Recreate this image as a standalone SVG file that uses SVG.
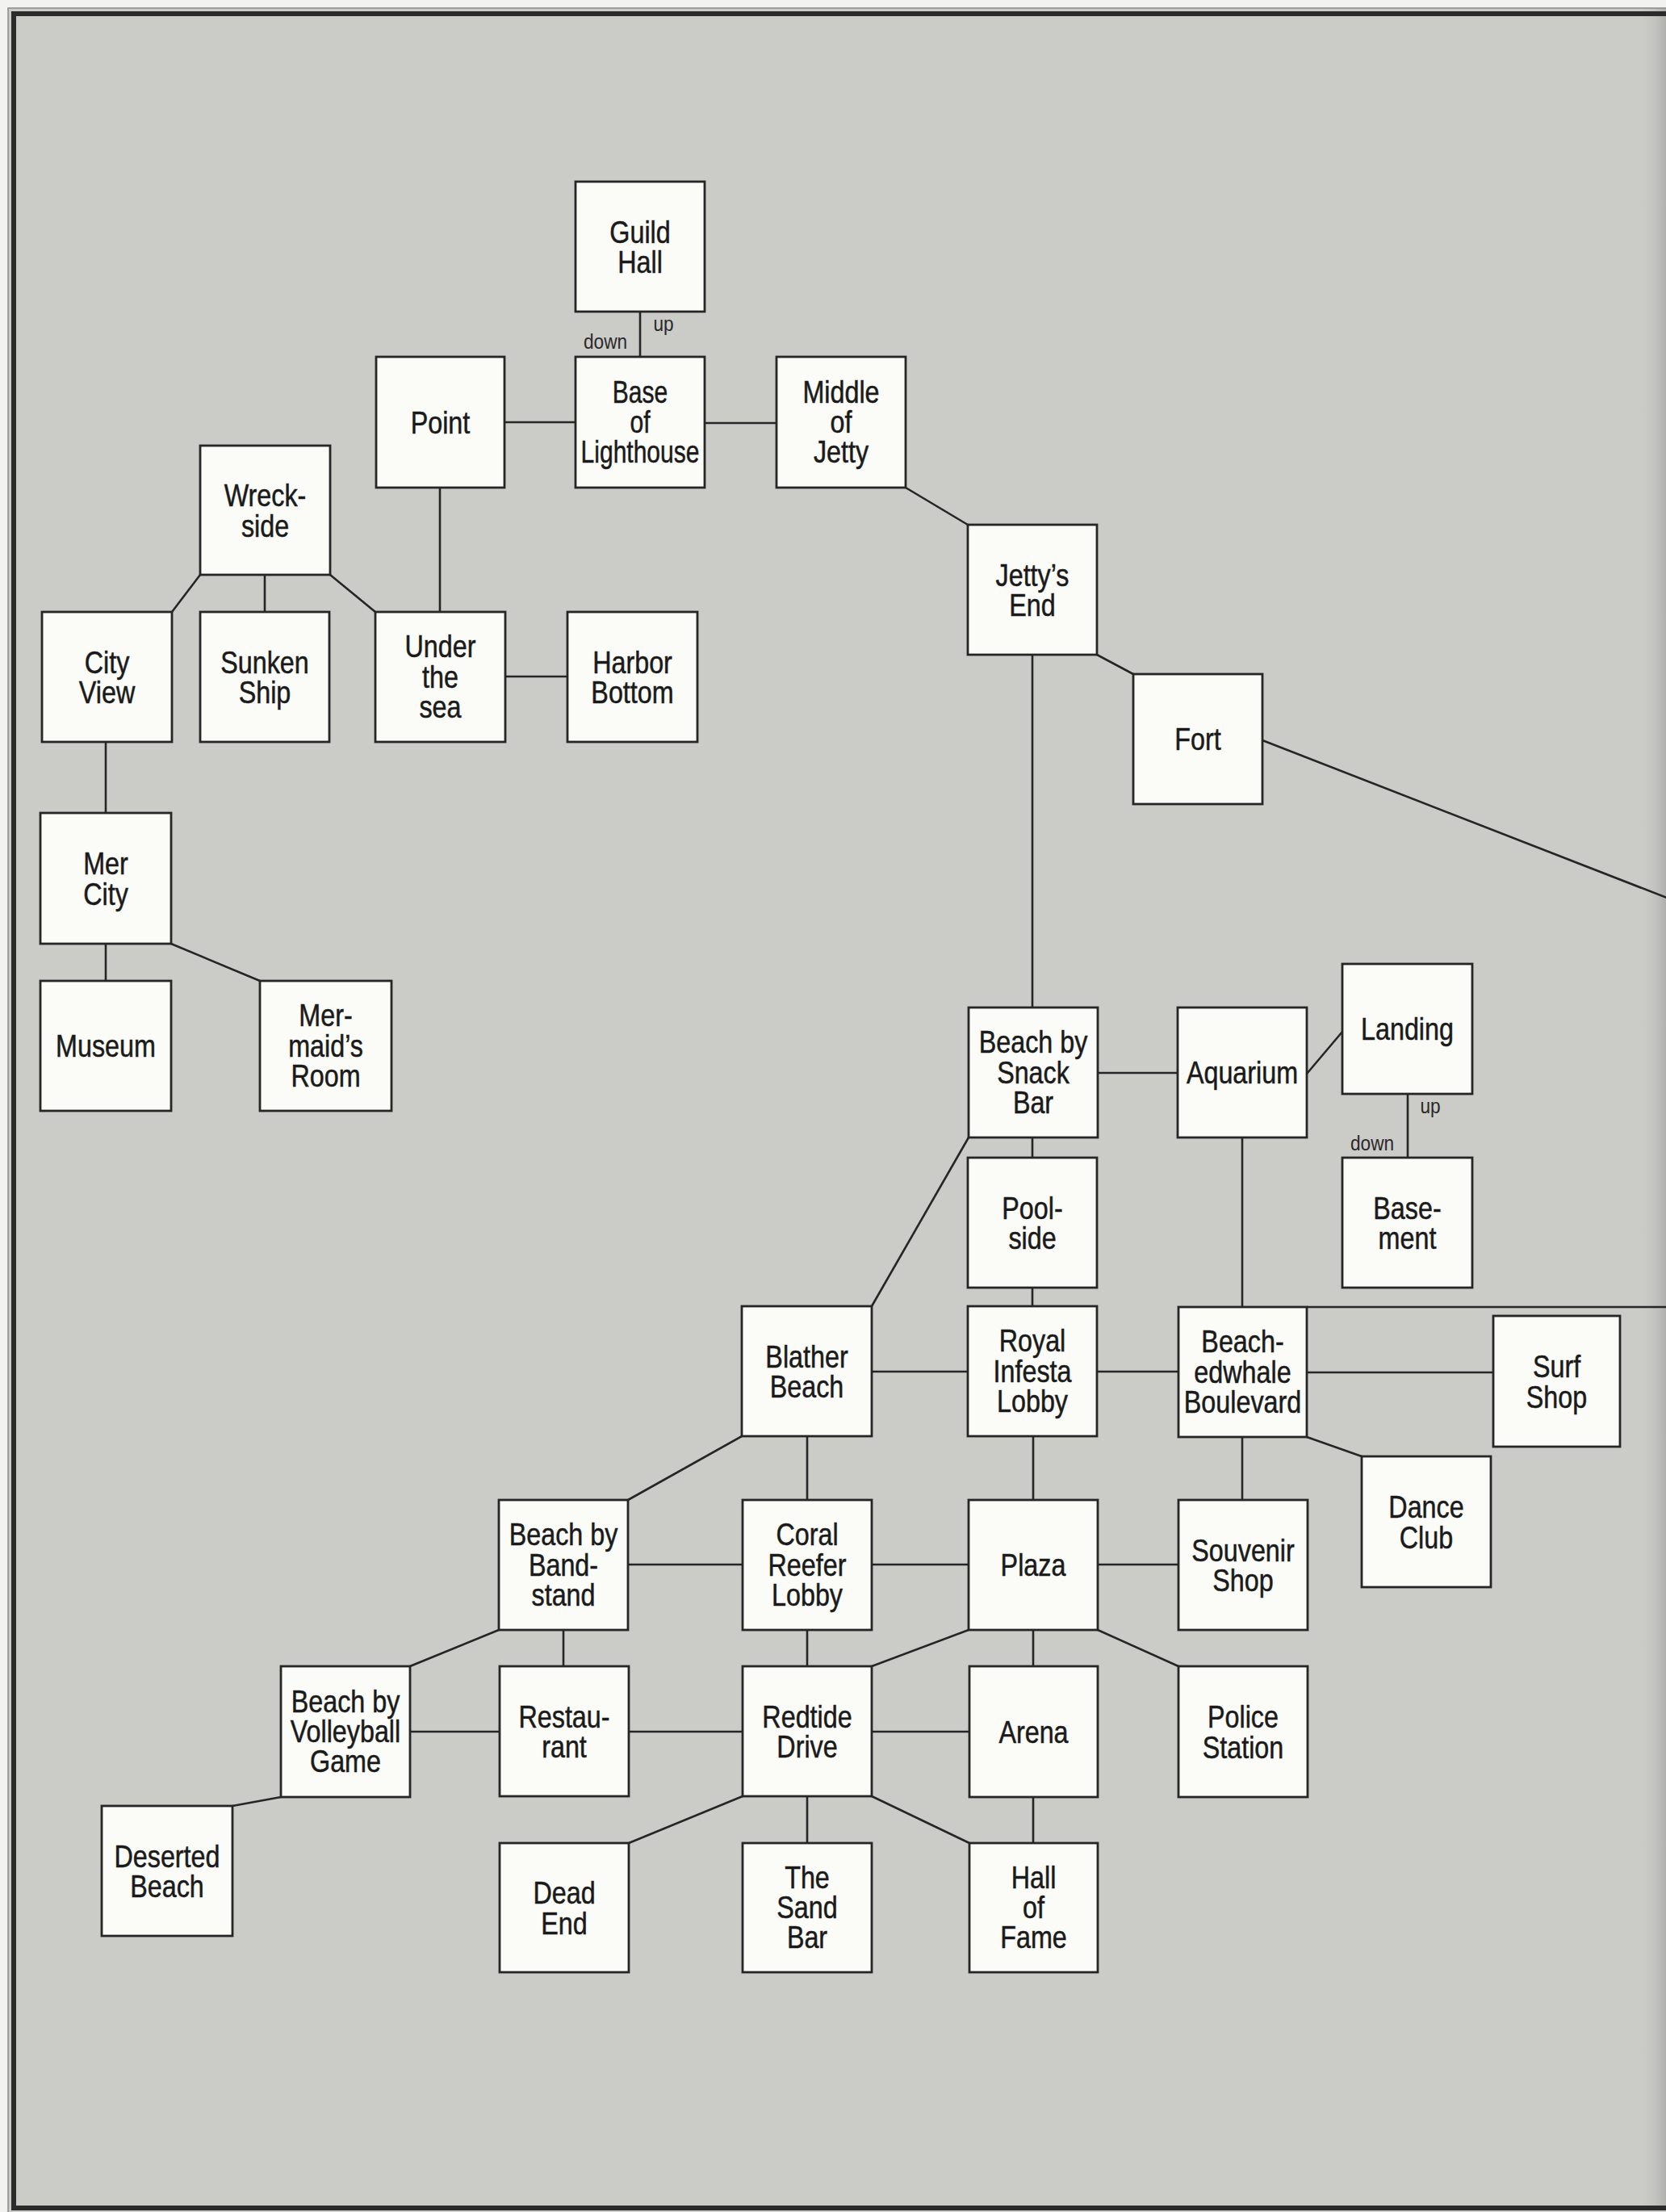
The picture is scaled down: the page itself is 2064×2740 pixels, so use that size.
<svg xmlns="http://www.w3.org/2000/svg" width="2064" height="2740" viewBox="0 0 2064 2740">
<defs>
<style>
.box{fill:#fbfbf8;stroke:#262626;stroke-width:2.8}
.lbl{font-family:"Liberation Sans",Arial,sans-serif;font-size:38px;fill:#1a1a1a;stroke:#1a1a1a;stroke-width:0.5;text-anchor:middle}
.dir{font-family:"Liberation Sans",Arial,sans-serif;font-size:26px;fill:#2a2a2a;text-anchor:middle}
#connectors line{stroke:#262626;stroke-width:2.6}
</style>
<linearGradient id="gutter" x1="0" y1="0" x2="1" y2="0">
<stop offset="0" stop-color="#cbcbc8" stop-opacity="0"/>
<stop offset="1" stop-color="#a9aaa7" stop-opacity="0.8"/>
</linearGradient>
</defs>
<rect x="0" y="0" width="2064" height="2740" fill="#f2f2f0"/>
<rect x="10" y="10" width="2054" height="2730" fill="#cbcbc8"/>
<rect x="2030" y="10" width="34" height="2725" fill="url(#gutter)"/>
<path d="M2064,17 H17 V2735 H2064" fill="none" stroke="#2b2b2b" stroke-width="6"/>
<path d="M2064,10 H10 V2740" fill="none" stroke="#8a8a88" stroke-width="1.5"/>

<g id="connectors">
<line x1="793" y1="386" x2="793" y2="442"/>
<line x1="625" y1="523" x2="713" y2="523"/>
<line x1="873" y1="524" x2="962" y2="524"/>
<line x1="1122" y1="604" x2="1199" y2="650"/>
<line x1="545" y1="604" x2="545" y2="758"/>
<line x1="248" y1="712" x2="213" y2="758"/>
<line x1="328" y1="712" x2="328" y2="758"/>
<line x1="409" y1="712" x2="465" y2="758"/>
<line x1="626" y1="838" x2="703" y2="838"/>
<line x1="131" y1="919" x2="131" y2="1007"/>
<line x1="131" y1="1169" x2="131" y2="1215"/>
<line x1="212" y1="1169" x2="322" y2="1215"/>
<line x1="1359" y1="811" x2="1404" y2="835"/>
<line x1="1564" y1="917" x2="2070" y2="1114"/>
<line x1="1279" y1="811" x2="1279" y2="1248"/>
<line x1="1360" y1="1329" x2="1459" y2="1329"/>
<line x1="1619" y1="1330" x2="1663" y2="1278"/>
<line x1="1744" y1="1355" x2="1744" y2="1434"/>
<line x1="1279" y1="1409" x2="1279" y2="1434"/>
<line x1="1279" y1="1595" x2="1279" y2="1618"/>
<line x1="1200" y1="1409" x2="1080" y2="1618"/>
<line x1="1539" y1="1409" x2="1539" y2="1619"/>
<line x1="1619" y1="1619" x2="2070" y2="1619"/>
<line x1="1080" y1="1699" x2="1199" y2="1699"/>
<line x1="1359" y1="1699" x2="1460" y2="1699"/>
<line x1="1619" y1="1700" x2="1850" y2="1700"/>
<line x1="1619" y1="1780" x2="1687" y2="1804"/>
<line x1="1539" y1="1780" x2="1539" y2="1858"/>
<line x1="1280" y1="1779" x2="1280" y2="1858"/>
<line x1="1000" y1="1779" x2="1000" y2="1858"/>
<line x1="919" y1="1779" x2="778" y2="1858"/>
<line x1="778" y1="1938" x2="920" y2="1938"/>
<line x1="1080" y1="1938" x2="1200" y2="1938"/>
<line x1="1360" y1="1938" x2="1460" y2="1938"/>
<line x1="698" y1="2019" x2="698" y2="2064"/>
<line x1="618" y1="2019" x2="508" y2="2064"/>
<line x1="1000" y1="2019" x2="1000" y2="2064"/>
<line x1="1200" y1="2019" x2="1080" y2="2064"/>
<line x1="1280" y1="2019" x2="1280" y2="2064"/>
<line x1="1360" y1="2019" x2="1460" y2="2064"/>
<line x1="508" y1="2145" x2="619" y2="2145"/>
<line x1="779" y1="2145" x2="920" y2="2145"/>
<line x1="1080" y1="2145" x2="1201" y2="2145"/>
<line x1="348" y1="2226" x2="288" y2="2237"/>
<line x1="920" y1="2225" x2="779" y2="2283"/>
<line x1="1000" y1="2225" x2="1000" y2="2283"/>
<line x1="1080" y1="2225" x2="1201" y2="2283"/>
<line x1="1280" y1="2226" x2="1280" y2="2283"/>
<text class="dir" transform="translate(822 410) scale(.87 1)">up</text>
<text class="dir" transform="translate(750 432) scale(.87 1)">down</text>
<text class="dir" transform="translate(1772 1379) scale(.87 1)">up</text>
<text class="dir" transform="translate(1700 1425) scale(.87 1)">down</text>
</g>

<g id="guild-hall"><rect class="box" x="713" y="225" width="160" height="161"/><text class="lbl" transform="translate(793 305.5) scale(.85 1)"><tspan x="0" y="-5">Guild</tspan><tspan x="0" y="32.5">Hall</tspan></text></g>
<g id="base-of-lighthouse"><rect class="box" x="713" y="442" width="160" height="162"/><text class="lbl" transform="translate(793 523) scale(.79 1)"><tspan x="0" y="-24.5">Base</tspan><tspan x="0" y="13">of</tspan><tspan x="0" y="50.5">Lighthouse</tspan></text></g>
<g id="point"><rect class="box" x="466" y="442" width="159" height="162"/><text class="lbl" transform="translate(545.5 523) scale(.85 1)"><tspan x="0" y="13.5">Point</tspan></text></g>
<g id="middle-of-jetty"><rect class="box" x="962" y="442" width="160" height="162"/><text class="lbl" transform="translate(1042 523) scale(.85 1)"><tspan x="0" y="-24.5">Middle</tspan><tspan x="0" y="13">of</tspan><tspan x="0" y="50.5">Jetty</tspan></text></g>
<g id="wreck-side"><rect class="box" x="248" y="552" width="161" height="160"/><text class="lbl" transform="translate(328.5 632) scale(.85 1)"><tspan x="0" y="-5">Wreck-</tspan><tspan x="0" y="32.5">side</tspan></text></g>
<g id="city-view"><rect class="box" x="52" y="758" width="161" height="161"/><text class="lbl" transform="translate(132.5 838.5) scale(.85 1)"><tspan x="0" y="-5">City</tspan><tspan x="0" y="32.5">View</tspan></text></g>
<g id="sunken-ship"><rect class="box" x="248" y="758" width="160" height="161"/><text class="lbl" transform="translate(328 838.5) scale(.85 1)"><tspan x="0" y="-5">Sunken</tspan><tspan x="0" y="32.5">Ship</tspan></text></g>
<g id="under-the-sea"><rect class="box" x="465" y="758" width="161" height="161"/><text class="lbl" transform="translate(545.5 838.5) scale(.85 1)"><tspan x="0" y="-24.5">Under</tspan><tspan x="0" y="13">the</tspan><tspan x="0" y="50.5">sea</tspan></text></g>
<g id="harbor-bottom"><rect class="box" x="703" y="758" width="161" height="161"/><text class="lbl" transform="translate(783.5 838.5) scale(.85 1)"><tspan x="0" y="-5">Harbor</tspan><tspan x="0" y="32.5">Bottom</tspan></text></g>
<g id="mer-city"><rect class="box" x="50" y="1007" width="162" height="162"/><text class="lbl" transform="translate(131 1088) scale(.85 1)"><tspan x="0" y="-5">Mer</tspan><tspan x="0" y="32.5">City</tspan></text></g>
<g id="museum"><rect class="box" x="50" y="1215" width="162" height="161"/><text class="lbl" transform="translate(131 1295.5) scale(.85 1)"><tspan x="0" y="13.5">Museum</tspan></text></g>
<g id="mermaids-room"><rect class="box" x="322" y="1215" width="163" height="161"/><text class="lbl" transform="translate(403.5 1295.5) scale(.85 1)"><tspan x="0" y="-24.5">Mer-</tspan><tspan x="0" y="13">maid’s</tspan><tspan x="0" y="50.5">Room</tspan></text></g>
<g id="jettys-end"><rect class="box" x="1199" y="650" width="160" height="161"/><text class="lbl" transform="translate(1279 730.5) scale(.85 1)"><tspan x="0" y="-5">Jetty’s</tspan><tspan x="0" y="32.5">End</tspan></text></g>
<g id="fort"><rect class="box" x="1404" y="835" width="160" height="161"/><text class="lbl" transform="translate(1484 915.5) scale(.85 1)"><tspan x="0" y="13.5">Fort</tspan></text></g>
<g id="beach-by-snack-bar"><rect class="box" x="1200" y="1248" width="160" height="161"/><text class="lbl" transform="translate(1280 1328.5) scale(.85 1)"><tspan x="0" y="-24.5">Beach by</tspan><tspan x="0" y="13">Snack</tspan><tspan x="0" y="50.5">Bar</tspan></text></g>
<g id="aquarium"><rect class="box" x="1459" y="1248" width="160" height="161"/><text class="lbl" transform="translate(1539 1328.5) scale(.85 1)"><tspan x="0" y="13.5">Aquarium</tspan></text></g>
<g id="landing"><rect class="box" x="1663" y="1194" width="161" height="161"/><text class="lbl" transform="translate(1743.5 1274.5) scale(.85 1)"><tspan x="0" y="13.5">Landing</tspan></text></g>
<g id="basement"><rect class="box" x="1663" y="1434" width="161" height="161"/><text class="lbl" transform="translate(1743.5 1514.5) scale(.85 1)"><tspan x="0" y="-5">Base-</tspan><tspan x="0" y="32.5">ment</tspan></text></g>
<g id="pool-side"><rect class="box" x="1199" y="1434" width="160" height="161"/><text class="lbl" transform="translate(1279 1514.5) scale(.85 1)"><tspan x="0" y="-5">Pool-</tspan><tspan x="0" y="32.5">side</tspan></text></g>
<g id="blather-beach"><rect class="box" x="919" y="1618" width="161" height="161"/><text class="lbl" transform="translate(999.5 1698.5) scale(.85 1)"><tspan x="0" y="-5">Blather</tspan><tspan x="0" y="32.5">Beach</tspan></text></g>
<g id="royal-infesta-lobby"><rect class="box" x="1199" y="1618" width="160" height="161"/><text class="lbl" transform="translate(1279 1698.5) scale(.85 1)"><tspan x="0" y="-24.5">Royal</tspan><tspan x="0" y="13">Infesta</tspan><tspan x="0" y="50.5">Lobby</tspan></text></g>
<g id="beachedwhale-boulevard"><rect class="box" x="1460" y="1619" width="159" height="161"/><text class="lbl" transform="translate(1539.5 1699.5) scale(.85 1)"><tspan x="0" y="-24.5">Beach-</tspan><tspan x="0" y="13">edwhale</tspan><tspan x="0" y="50.5">Boulevard</tspan></text></g>
<g id="surf-shop"><rect class="box" x="1850" y="1630" width="157" height="162"/><text class="lbl" transform="translate(1928.5 1711) scale(.85 1)"><tspan x="0" y="-5">Surf</tspan><tspan x="0" y="32.5">Shop</tspan></text></g>
<g id="dance-club"><rect class="box" x="1687" y="1804" width="160" height="162"/><text class="lbl" transform="translate(1767 1885) scale(.85 1)"><tspan x="0" y="-5">Dance</tspan><tspan x="0" y="32.5">Club</tspan></text></g>
<g id="beach-by-bandstand"><rect class="box" x="618" y="1858" width="160" height="161"/><text class="lbl" transform="translate(698 1938.5) scale(.85 1)"><tspan x="0" y="-24.5">Beach by</tspan><tspan x="0" y="13">Band-</tspan><tspan x="0" y="50.5">stand</tspan></text></g>
<g id="coral-reefer-lobby"><rect class="box" x="920" y="1858" width="160" height="161"/><text class="lbl" transform="translate(1000 1938.5) scale(.85 1)"><tspan x="0" y="-24.5">Coral</tspan><tspan x="0" y="13">Reefer</tspan><tspan x="0" y="50.5">Lobby</tspan></text></g>
<g id="plaza"><rect class="box" x="1200" y="1858" width="160" height="161"/><text class="lbl" transform="translate(1280 1938.5) scale(.85 1)"><tspan x="0" y="13.5">Plaza</tspan></text></g>
<g id="souvenir-shop"><rect class="box" x="1460" y="1858" width="160" height="161"/><text class="lbl" transform="translate(1540 1938.5) scale(.85 1)"><tspan x="0" y="-5">Souvenir</tspan><tspan x="0" y="32.5">Shop</tspan></text></g>
<g id="restaurant"><rect class="box" x="619" y="2064" width="160" height="161"/><text class="lbl" transform="translate(699 2144.5) scale(.85 1)"><tspan x="0" y="-5">Restau-</tspan><tspan x="0" y="32.5">rant</tspan></text></g>
<g id="redtide-drive"><rect class="box" x="920" y="2064" width="160" height="161"/><text class="lbl" transform="translate(1000 2144.5) scale(.85 1)"><tspan x="0" y="-5">Redtide</tspan><tspan x="0" y="32.5">Drive</tspan></text></g>
<g id="arena"><rect class="box" x="1201" y="2064" width="159" height="162"/><text class="lbl" transform="translate(1280.5 2145) scale(.85 1)"><tspan x="0" y="13.5">Arena</tspan></text></g>
<g id="police-station"><rect class="box" x="1460" y="2064" width="160" height="162"/><text class="lbl" transform="translate(1540 2145) scale(.85 1)"><tspan x="0" y="-5">Police</tspan><tspan x="0" y="32.5">Station</tspan></text></g>
<g id="dead-end"><rect class="box" x="619" y="2283" width="160" height="160"/><text class="lbl" transform="translate(699 2363) scale(.85 1)"><tspan x="0" y="-5">Dead</tspan><tspan x="0" y="32.5">End</tspan></text></g>
<g id="the-sand-bar"><rect class="box" x="920" y="2283" width="160" height="160"/><text class="lbl" transform="translate(1000 2363) scale(.85 1)"><tspan x="0" y="-24.5">The</tspan><tspan x="0" y="13">Sand</tspan><tspan x="0" y="50.5">Bar</tspan></text></g>
<g id="hall-of-fame"><rect class="box" x="1201" y="2283" width="159" height="160"/><text class="lbl" transform="translate(1280.5 2363) scale(.85 1)"><tspan x="0" y="-24.5">Hall</tspan><tspan x="0" y="13">of</tspan><tspan x="0" y="50.5">Fame</tspan></text></g>
<g id="beach-by-volleyball-game"><rect class="box" x="348" y="2064" width="160" height="162"/><text class="lbl" transform="translate(428 2145) scale(.85 1)"><tspan x="0" y="-24.5">Beach by</tspan><tspan x="0" y="13">Volleyball</tspan><tspan x="0" y="50.5">Game</tspan></text></g>
<g id="deserted-beach"><rect class="box" x="126" y="2237" width="162" height="161"/><text class="lbl" transform="translate(207 2317.5) scale(.85 1)"><tspan x="0" y="-5">Deserted</tspan><tspan x="0" y="32.5">Beach</tspan></text></g>
</svg>
